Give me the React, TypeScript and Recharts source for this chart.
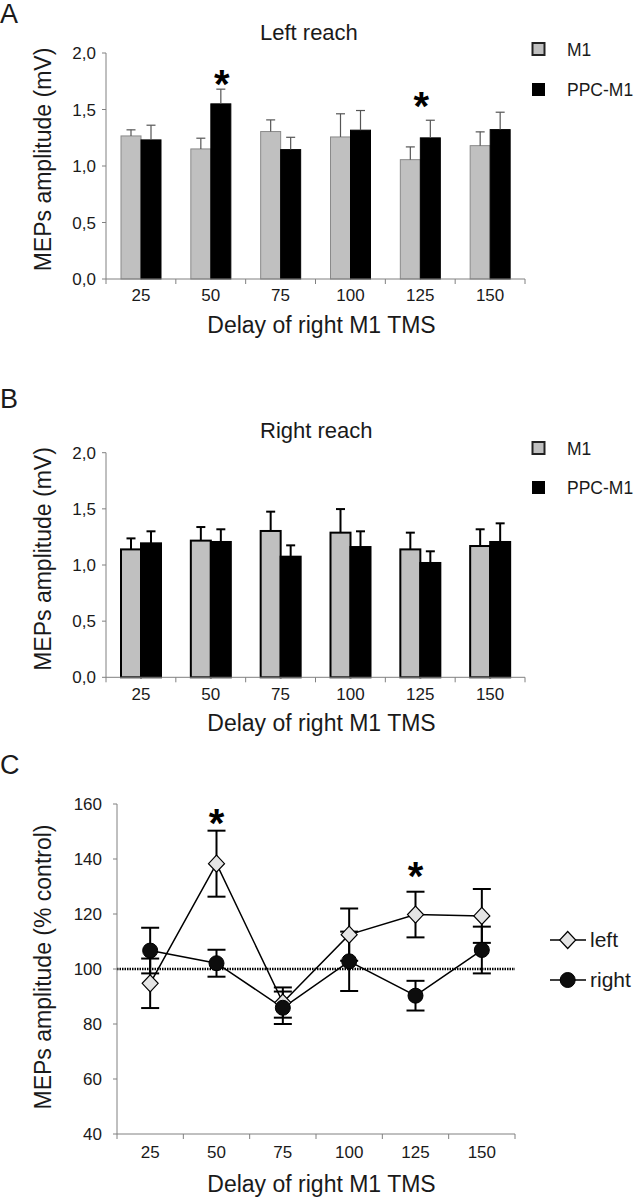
import {
  BarChart,
  Bar,
  LineChart,
  Line,
  XAxis,
  YAxis,
  ErrorBar,
  ReferenceLine,
  ReferenceDot
} from "recharts";

/* ---------------- DATA ---------------- */

const delays = ["25", "50", "75", "100", "125", "150"];

// A - left reach (mV)
const leftM1 = [1.266, 1.151, 1.305, 1.257, 1.056, 1.18];
const leftM1Err = [0.054, 0.095, 0.103, 0.205, 0.113, 0.122];
const leftPpc = [1.231, 1.55, 1.145, 1.317, 1.249, 1.322];
const leftPpcErr = [0.13, 0.13, 0.109, 0.174, 0.156, 0.154];

// B - right reach (mV)
const rightM1 = [1.139, 1.217, 1.303, 1.288, 1.139, 1.169];
const rightM1Err = [0.098, 0.121, 0.172, 0.21, 0.149, 0.149];
const rightPpc = [1.193, 1.205, 1.074, 1.16, 1.018, 1.205];
const rightPpcErr = [0.107, 0.113, 0.101, 0.14, 0.104, 0.166];

// C - % control
const pctLeft = [94.8, 138.3, 87.8, 112.5, 119.8, 119.3];
const pctLeftErr = [9, 12, 5.5, 9.5, 8.3, 9.8];
const pctRight = [106.7, 102.1, 85.9, 102.8, 90.3, 106.9];
const pctRightErr = [8.3, 4.9, 5.9, 10.8, 5.4, 8.5];

const mvTicks = [0, 0.5, 1, 1.5, 2];
const pctTicks = [40, 60, 80, 100, 120, 140, 160];

// significance marks: [delay, height in axis units]
const starsLeft: [string, number][] = [["50", 1.8], ["125", 1.6]];
const starsPct: [string, number][] = [["50", 156], ["125", 136.7]];

/* ---------------- STYLE ---------------- */

const FONT = '"Liberation Sans", Arial, Helvetica, sans-serif';
const AXIS = "#808080";
const GRAY = "#c0c0c0";
const TEXT = "#1a1a1a";

const leftRows = delays.map((d, i) => ({
  delay: d,
  m1: leftM1[i],
  m1Err: leftM1Err[i],
  ppc: leftPpc[i],
  ppcErr: leftPpcErr[i]
}));

const rightRows = delays.map((d, i) => ({
  delay: d,
  m1: rightM1[i],
  m1Err: rightM1Err[i],
  ppc: rightPpc[i],
  ppcErr: rightPpcErr[i]
}));

const pctRows = delays.map((d, i) => ({
  delay: d,
  left: pctLeft[i],
  leftErr: pctLeftErr[i],
  right: pctRight[i],
  rightErr: pctRightErr[i]
}));

const mvFormat = (v: number) => v.toFixed(1).replace(".", ",");

/* ---------------- PIECES ---------------- */

type WhiskerStyle = {
  fill: string;
  stroke: string;
  strokeWidth: number;
  errStroke: string;
  errWidth: number;
};

// bar rect + one-sided (upward) error whisker, sized from the bar's own scale
const whiskerBar = (key: string, errKey: string, s: WhiskerStyle) => (props: any) => {
  const { x, y, width, height, payload } = props;
  const value = payload[key];
  const ppu = value ? height / value : 0;
  const top = y - payload[errKey] * ppu;
  const cx = x + width / 2;
  return (
    <g>
      <rect
        x={x}
        y={y}
        width={width}
        height={height}
        fill={s.fill}
        stroke={s.stroke}
        strokeWidth={s.strokeWidth}
      />
      <line x1={cx} x2={cx} y1={y} y2={top} stroke={s.errStroke} strokeWidth={s.errWidth} />
      <line x1={cx - 4.5} x2={cx + 4.5} y1={top} y2={top} stroke={s.errStroke} strokeWidth={s.errWidth} />
    </g>
  );
};

// category label at the centre, tick marks on the category boundaries
const bandTick = (band: number, labelDy: number) => (props: any) => {
  const { x, y, payload, index } = props;
  return (
    <g>
      {index === 0 && (
        <line x1={x - band / 2} x2={x - band / 2} y1={y} y2={y + 5} stroke={AXIS} />
      )}
      <line x1={x + band / 2} x2={x + band / 2} y1={y} y2={y + 5} stroke={AXIS} />
      <text x={x} y={y + labelDy} textAnchor="middle" fontSize={17} fill={TEXT}>
        {payload.value}
      </text>
    </g>
  );
};

const Star = ({ cx, cy }: { cx: number; cy: number }) => (
  <text x={cx} y={cy + 22} textAnchor="middle" fontSize={40} fontWeight="bold" fill="#000">
    *
  </text>
);

const Diamond = ({ cx, cy }: { cx: number; cy: number }) => (
  <polygon
    points={`${cx},${cy - 8.5} ${cx + 8},${cy} ${cx},${cy + 8.5} ${cx - 8},${cy}`}
    fill="#e4e4e4"
    stroke="#000"
    strokeWidth={1.2}
  />
);

const Disc = ({ cx, cy }: { cx: number; cy: number }) => (
  <circle cx={cx} cy={cy} r={7.5} fill="#0d0d0d" stroke="#000" strokeWidth={1} />
);

/* ---------------- LAYOUT ---------------- */

const BAND_MV = (525 - 106) / delays.length;
const BAND_PCT = (515 - 117) / delays.length;

const yTick = { fontSize: 17, fill: TEXT };

function MvChart({
  rows,
  top,
  marginTop,
  marginBottom,
  m1Style,
  ppcStyle,
  labelDy,
  stars
}: {
  rows: typeof leftRows;
  top: number;
  marginTop: number;
  marginBottom: number;
  m1Style: WhiskerStyle;
  ppcStyle: WhiskerStyle;
  labelDy: number;
  stars: [string, number][];
}) {
  const starDx = [11, 1];
  return (
    <div style={{ position: "absolute", left: 0, top }}>
      <BarChart
        width={636}
        height={345}
        data={rows}
        barGap={0}
        margin={{ top: marginTop, right: 111, bottom: marginBottom, left: 46 }}
      >
        <XAxis
          dataKey="delay"
          height={60}
          tickLine={false}
          tickSize={0}
          tickMargin={0}
          axisLine={{ stroke: AXIS }}
          tick={bandTick(BAND_MV, labelDy)}
          interval={0}
        />
        <YAxis
          width={60}
          domain={[0, 2]}
          ticks={mvTicks}
          tickFormatter={mvFormat}
          axisLine={{ stroke: AXIS }}
          tickLine={{ stroke: AXIS }}
          tickSize={4}
          tickMargin={6}
          tick={yTick}
        />
        <Bar
          dataKey="m1"
          barSize={20}
          isAnimationActive={false}
          shape={whiskerBar("m1", "m1Err", m1Style)}
        />
        <Bar
          dataKey="ppc"
          barSize={20}
          isAnimationActive={false}
          shape={whiskerBar("ppc", "ppcErr", ppcStyle)}
        />
        {stars.map(([d, v], i) => (
          <ReferenceDot
            key={d}
            x={d}
            y={v}
            r={0}
            shape={(p: any) => <Star cx={p.cx + starDx[i]} cy={p.cy} />}
          />
        ))}
      </BarChart>
    </div>
  );
}

function PctChart() {
  return (
    <div style={{ position: "absolute", left: 0, top: 750 }}>
      <LineChart
        width={636}
        height={450}
        data={pctRows}
        margin={{ top: 54, right: 121, bottom: 6, left: 57 }}
      >
        <XAxis
          dataKey="delay"
          scale="band"
          height={60}
          tickLine={false}
          tickSize={0}
          tickMargin={0}
          axisLine={{ stroke: AXIS }}
          tick={bandTick(BAND_PCT, 24)}
          interval={0}
        />
        <YAxis
          width={60}
          domain={[40, 160]}
          ticks={pctTicks}
          axisLine={{ stroke: AXIS }}
          tickLine={{ stroke: AXIS }}
          tickSize={4}
          tickMargin={11}
          tick={yTick}
        />
        <ReferenceLine y={100} stroke="#000" strokeWidth={2.5} strokeDasharray="1.5 1" />
        <Line
          dataKey="left"
          stroke="#000"
          strokeWidth={1.5}
          isAnimationActive={false}
          dot={(p: any) => <Diamond key={`l${p.index}`} cx={p.cx} cy={p.cy} />}
        >
          <ErrorBar dataKey="leftErr" direction="y" width={9} strokeWidth={2} stroke="#000" />
        </Line>
        <Line
          dataKey="right"
          stroke="#000"
          strokeWidth={1.5}
          isAnimationActive={false}
          dot={(p: any) => <Disc key={`r${p.index}`} cx={p.cx} cy={p.cy} />}
        >
          <ErrorBar dataKey="rightErr" direction="y" width={9} strokeWidth={2} stroke="#000" />
        </Line>
        {starsPct.map(([d, v]) => (
          <ReferenceDot
            key={d}
            x={d}
            y={v}
            r={0}
            shape={(p: any) => <Star cx={p.cx} cy={p.cy} />}
          />
        ))}
      </LineChart>
    </div>
  );
}

/* ---------------- COMPONENT ---------------- */

export default function App() {
  const xTitle = "Delay of right M1 TMS";
  return (
    <div
      style={{
        position: "absolute",
        left: 0,
        top: 0,
        width: 636,
        height: 1200,
        overflow: "hidden",
        background: "#fff",
        fontFamily: FONT
      }}
    >
      <MvChart
        rows={leftRows}
        top={0}
        marginTop={53}
        marginBottom={6}
        labelDy={22}
        stars={starsLeft}
        m1Style={{ fill: GRAY, stroke: "#8a8a8a", strokeWidth: 1, errStroke: "#555", errWidth: 1.2 }}
        ppcStyle={{ fill: "#000", stroke: "#000", strokeWidth: 1, errStroke: "#555", errWidth: 1.2 }}
      />
      <MvChart
        rows={rightRows}
        top={400}
        marginTop={52.7}
        marginBottom={7.7}
        labelDy={22.5}
        stars={[]}
        m1Style={{ fill: GRAY, stroke: "#000", strokeWidth: 2, errStroke: "#000", errWidth: 2 }}
        ppcStyle={{ fill: "#000", stroke: "#000", strokeWidth: 2, errStroke: "#000", errWidth: 2 }}
      />
      <PctChart />

      {/* titles, panel letters, legends, axis titles */}
      <svg
        width={636}
        height={1200}
        style={{ position: "absolute", left: 0, top: 0, pointerEvents: "none" }}
        fontFamily={FONT}
        fill={TEXT}
      >
        <text x={0} y={23} fontSize={27}>A</text>
        <text x={0} y={408} fontSize={27}>B</text>
        <text x={0} y={774} fontSize={27}>C</text>

        <text x={260} y={40} fontSize={22}>Left reach</text>
        <text x={260} y={438} fontSize={22}>Right reach</text>

        <text transform="translate(50.5,159.5) rotate(-90)" textAnchor="middle" fontSize={23}>
          MEPs amplitude (mV)
        </text>
        <text transform="translate(50.5,559) rotate(-90)" textAnchor="middle" fontSize={23}>
          MEPs amplitude (mV)
        </text>
        <text transform="translate(50.5,967) rotate(-90)" textAnchor="middle" fontSize={23}>
          MEPs amplitude (% control)
        </text>

        <text x={321.5} y={333} textAnchor="middle" fontSize={23}>{xTitle}</text>
        <text x={321.5} y={731} textAnchor="middle" fontSize={23}>{xTitle}</text>
        <text x={321.5} y={1192} textAnchor="middle" fontSize={23}>{xTitle}</text>

        {/* legend A */}
        <rect x={532.5} y={43} width={12} height={12} fill={GRAY} stroke="#222" strokeWidth={2} />
        <text x={567} y={56} fontSize={17.5}>M1</text>
        <rect x={532} y={83} width={13} height={13} fill="#000" />
        <text x={567} y={96} fontSize={17.5}>PPC-M1</text>

        {/* legend B */}
        <rect x={532.5} y={442} width={12} height={12} fill={GRAY} stroke="#222" strokeWidth={2} />
        <text x={567} y={454.5} fontSize={17.5}>M1</text>
        <rect x={532} y={481} width={13} height={13} fill="#000" />
        <text x={567} y={494} fontSize={17.5}>PPC-M1</text>

        {/* legend C */}
        <line x1={550} x2={586} y1={940} y2={940} stroke="#000" strokeWidth={1.5} />
        <Diamond cx={567.7} cy={940} />
        <text x={590} y={947} fontSize={21}>left</text>
        <line x1={550} x2={586} y1={980} y2={980} stroke="#000" strokeWidth={1.5} />
        <Disc cx={567.7} cy={980} />
        <text x={590} y={987} fontSize={21}>right</text>
      </svg>
    </div>
  );
}
